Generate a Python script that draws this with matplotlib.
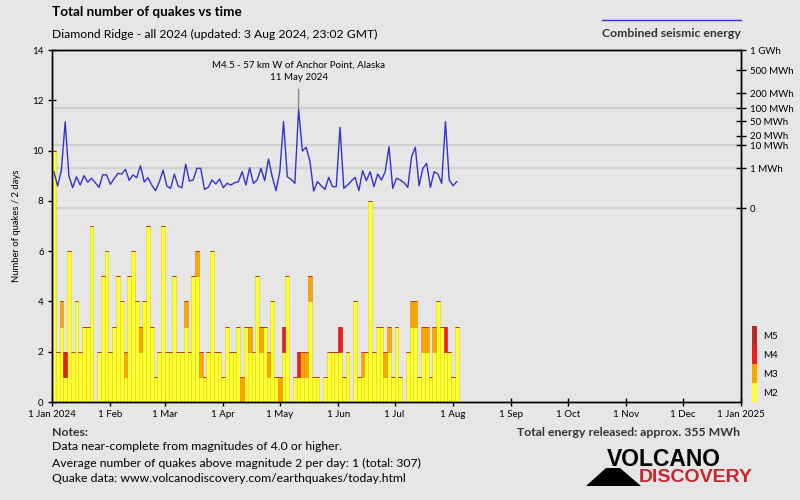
import numpy as np
import pandas as pd
import matplotlib
matplotlib.use('Agg')
import matplotlib.pyplot as plt
import matplotlib.dates as mdates
from matplotlib.lines import Line2D
from matplotlib.patches import Rectangle, Polygon
from matplotlib.transforms import blended_transform_factory

plt.rcParams['font.family'] = ['Lato', 'DejaVu Sans']

BG = '#e6e6e6'
GRID = '#d0d0d0'
BLUE = '#3333cc'

# 2-day bins from 1 Jan 2024 up to 3 Aug 2024
bin_start = pd.date_range('2024-01-01', periods=108, freq='2D')

# quakes per bin by magnitude class
m2 = [10, 2, 3, 1, 6, 2, 4, 2, 3, 3, 7, 0,
      2, 5, 6, 2, 3, 5, 4, 1, 5, 6, 4, 2,
      4, 7, 3, 1, 2, 7, 2, 2, 5, 2, 2, 3,
      2, 5, 5, 1, 1, 2, 6, 2, 2, 1, 3, 2,
      2, 3, 0, 3, 2, 2, 5, 2, 3, 1, 4, 1,
      0, 2, 5, 0, 1, 1, 1, 1, 4, 1, 1, 0,
      1, 2, 2, 2, 2, 1, 2, 0, 4, 1, 1, 2,
      8, 2, 3, 3, 1, 2, 1, 3, 1, 0, 2, 3,
      3, 1, 2, 2, 1, 2, 4, 3, 2, 2, 1, 3]
m3 = [0, 0, 1, 0, 0, 0, 0, 0, 0, 0, 0, 0,
      0, 0, 0, 0, 0, 0, 0, 1, 0, 0, 0, 1,
      0, 0, 0, 0, 0, 0, 0, 0, 0, 0, 0, 1,
      0, 0, 1, 1, 0, 0, 0, 0, 0, 0, 0, 0,
      0, 0, 1, 0, 1, 0, 0, 1, 0, 1, 0, 0,
      1, 0, 0, 0, 0, 0, 1, 1, 1, 0, 0, 0,
      0, 0, 0, 0, 0, 0, 0, 0, 0, 0, 1, 0,
      0, 0, 0, 0, 1, 1, 0, 0, 0, 0, 0, 1,
      1, 0, 1, 1, 0, 1, 0, 0, 0, 0, 0, 0]
m4 = [0, 0, 0, 1, 0, 0, 0, 0, 0, 0, 0, 0,
      0, 0, 0, 0, 0, 0, 0, 0, 0, 0, 0, 0,
      0, 0, 0, 0, 0, 0, 0, 0, 0, 0, 0, 0,
      0, 0, 0, 0, 0, 0, 0, 0, 0, 0, 0, 0,
      0, 0, 0, 0, 0, 0, 0, 0, 0, 0, 0, 0,
      0, 1, 0, 0, 0, 1, 0, 0, 0, 0, 0, 0,
      0, 0, 0, 0, 1, 0, 0, 0, 0, 0, 0, 0,
      0, 0, 0, 0, 0, 0, 0, 0, 0, 0, 0, 0,
      0, 0, 0, 0, 0, 0, 0, 0, 1, 0, 0, 0]
m5 = [0] * 108

# combined seismic energy per bin (MWh)
energy_mwh = [0.64, 0.052, 0.80, 48.6, 0.34, 0.035, 0.30, 0.065, 0.36, 0.114, 0.235, 0.105,
              0.038, 0.42, 0.40, 0.076, 0.22, 0.51, 0.46, 0.88, 0.166, 0.40, 0.26, 1.37,
              0.121, 0.26, 0.065, 0.016, 0.121, 0.80, 0.052, 0.030, 0.46, 0.052, 0.035, 1.62,
              0.145, 0.175, 1.0, 1.0, 0.023, 0.038, 0.175, 0.081, 0.207, 0.035, 0.093, 0.065,
              0.105, 0.128, 0.64, 0.065, 1.08, 0.093, 0.175, 1.0, 0.154, 2.86, 0.30, 0.016,
              0.64, 48.6, 0.30, 0.197, 0.093, 95.0, 6.1, 8.4, 2.33, 0.014, 0.128, 0.056,
              0.023, 0.276, 0.045, 0.045, 34.7, 0.030, 0.065, 0.145, 0.276, 0.016, 0.73, 0.154,
              0.64, 0.045, 0.46, 0.175, 0.64, 8.8, 0.030, 0.235, 0.175, 0.105, 0.038, 3.6,
              8.4, 0.056, 1.0, 1.81, 0.038, 0.64, 0.46, 0.093, 48.6, 0.175, 0.056, 0.128]

energy_ticks = [1000, 500, 200, 100, 50, 20, 10, 1, 0]
energy_tick_labels = ['1 GWh', '500 MWh', '200 MWh', '100 MWh', '50 MWh',
                      '20 MWh', '10 MWh', '1 MWh', '0']
energy_grid = [0, 1, 10, 100]

mag_classes = ['M2', 'M3', 'M4', 'M5']
mag_colors = ['#ffff33', '#ffa500', '#f01c1c', '#b82828']
mag_edges = ['#dcdc10', '#e09000', '#d01818', '#982020']

W, H = 800, 500


def fpos(x, y):
    return x / W, 1 - y / H


fig = plt.figure(figsize=(8, 5), dpi=100, facecolor=BG)
ax = fig.add_axes([52 / W, 1 - 402 / H, (741 - 52) / W, (402 - 50) / H], facecolor=BG)
ax2 = ax.twinx()

# energy axis shows E**0.2
ax2.set_ylim(-4.887, 3.981)

trans = blended_transform_factory(ax.transAxes, ax2.transData)
for e in energy_grid:
    ax.add_line(Line2D([0, 1], [e ** 0.2] * 2, transform=trans, color=GRID, lw=1.6, zorder=1))

bottom = np.zeros(len(bin_start))
for vals, col, edge in zip([m2, m3, m4, m5], mag_colors, mag_edges):
    vals = np.array(vals)
    ax.bar(bin_start, vals, width=2, bottom=bottom, align='edge', color=col,
           edgecolor=edge, linewidth=0.4, zorder=2)
    bottom += vals

mid = bin_start + pd.Timedelta(days=1)
ax2.plot(mid, np.array(energy_mwh) ** 0.2, color=BLUE, lw=1, zorder=3)

# biggest event label
peak = int(np.argmax(energy_mwh))
ax2.annotate('M4.5 - 57 km W of Anchor Point, Alaska\n11 May 2024',
             xy=(mid[peak], energy_mwh[peak] ** 0.2), xytext=(0, 20),
             textcoords='offset points', ha='center', va='bottom', fontsize=7,
             linespacing=1.45,
             arrowprops=dict(arrowstyle='-', color='#888888', lw=1, shrinkA=3.5, shrinkB=0))

ax.set_xlim(pd.Timestamp('2024-01-01'), pd.Timestamp('2025-01-01'))
ax.set_ylim(0, 14)
ax.set_yticks(range(0, 15, 2))
ax.xaxis.set_major_locator(mdates.MonthLocator())


def month_fmt(x, pos):
    d = mdates.num2date(x)
    return d.strftime('1 %b %Y') if d.month == 1 else d.strftime('1 %b')


ax.xaxis.set_major_formatter(plt.FuncFormatter(month_fmt))
ax.tick_params(axis='both', direction='inout', length=6, width=1, labelsize=7, pad=3)
ax.set_ylabel('Number of quakes / 2 days', fontsize=6.8, labelpad=8)

ax2.set_yticks(np.array(energy_ticks) ** 0.2, labels=energy_tick_labels)
ax2.tick_params(axis='y', direction='inout', length=7, width=1, labelsize=7, pad=3)

for a in (ax, ax2):
    for s in a.spines.values():
        s.set_color('black')
        s.set_linewidth(1)

# headers
fig.text(*fpos(52, 12.5), 'Total number of quakes vs time', fontsize=9.7, weight='bold', va='center')
fig.text(*fpos(52, 34), 'Diamond Ridge - all 2024 (updated: 3 Aug 2024, 23:02 GMT)',
         fontsize=8.7, va='center')

# legend for the energy line
fig.add_artist(Line2D([602 / W, 741 / W], [1 - 20 / H] * 2, color=BLUE, lw=1))
fig.text(*fpos(741, 33), 'Combined seismic energy', fontsize=8.8, weight='bold',
         ha='right', va='center', color='#333333')

# magnitude colour key
key_top = 326
key_h = 19
for k, (lab, col) in enumerate(zip(reversed(mag_classes), reversed(mag_colors))):
    y0 = key_top + k * key_h
    fig.add_artist(Rectangle(fpos(752, y0 + key_h), 4.5 / W, key_h / H,
                             transform=fig.transFigure, color=col, lw=0))
    fig.text(*fpos(763, y0 + key_h / 2 + 1), lab, fontsize=7, va='center')

# notes
fig.text(*fpos(52, 432), 'Notes:', fontsize=8.8, weight='bold', va='center', color='#333333')
notes = ['Data near-complete from magnitudes of 4.0 or higher.',
         'Average number of quakes above magnitude 2 per day: 1 (total: 307)',
         'Quake data: www.volcanodiscovery.com/earthquakes/today.html']
for k, line in enumerate(notes):
    fig.text(*fpos(52, 447 + 16 * k), line, fontsize=8.8, va='center')
fig.text(*fpos(740, 432), 'Total energy released: approx. 355 MWh', fontsize=8.8,
         weight='bold', ha='right', va='center', color='#333333')

# logo
fig.add_artist(Polygon([fpos(586, 486), fpos(606, 468), fpos(620, 468), fpos(641, 486)],
                       closed=True, transform=fig.transFigure, color='black', lw=0))
fig.text(*fpos(664, 459), 'VOLCANO', fontsize=16.5, weight='bold', ha='center', va='center',
         family=['Liberation Sans Narrow', 'Liberation Sans', 'DejaVu Sans'], color='black')
fig.text(*fpos(696, 478), 'DISCOVERY', fontsize=14, weight='bold', ha='center', va='center',
         family=['Liberation Sans Narrow', 'Liberation Sans', 'DejaVu Sans'], color='#c8262c')

fig.savefig('out.png', dpi=100, facecolor=BG)
